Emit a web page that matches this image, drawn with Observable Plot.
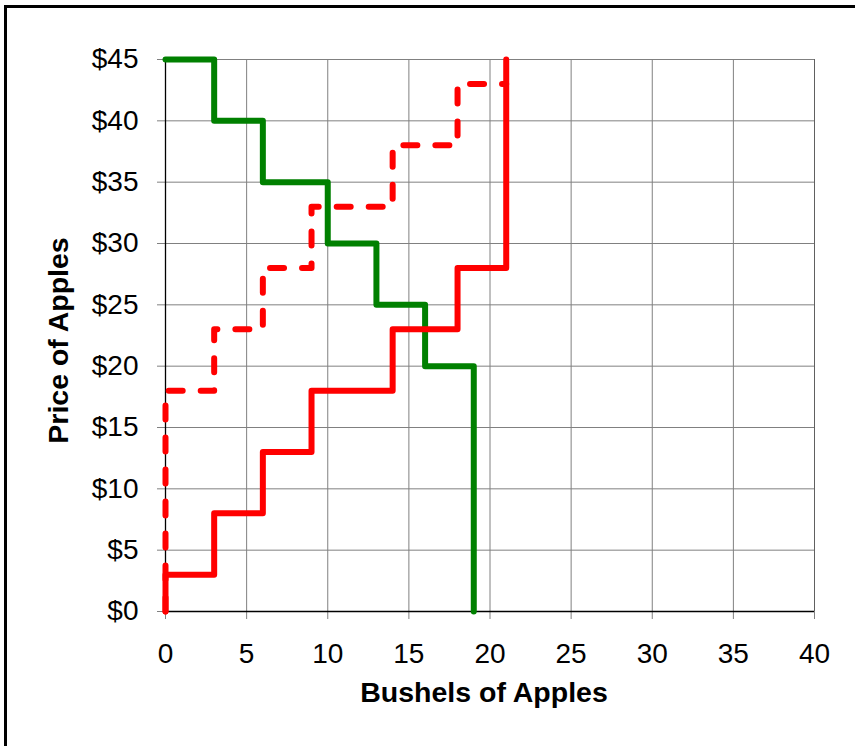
<!DOCTYPE html>
<html>
<head>
<meta charset="utf-8">
<script src="https://cdn.jsdelivr.net/npm/d3@7"></script>
<script src="https://cdn.jsdelivr.net/npm/@observablehq/plot@0.6"></script>
<style>
  html, body { margin: 0; padding: 0; background: #fff; overflow: hidden; }
  #wrap { position: relative; width: 855px; height: 746px; }
  #border { position: absolute; left: 4px; top: 5px; width: 880px; height: 780px; border: 3px solid #000; box-sizing: border-box; pointer-events: none; }
  svg { display: block; }
</style>
</head>
<body>
<div id="wrap"><div id="border"></div><div id="chart"></div></div>
<script>
// Demand (green): quantity / price pairs, drawn with step-after
const demandQ = [0, 3, 6, 10, 13, 16, 19];
const demandP = [45, 40, 35, 30, 25, 20, 0];
// Supply (solid red): step-before
const supplyQ = [0, 3, 6, 9, 14, 18, 21, 21];
const supplyP = [0, 3, 8, 13, 18, 23, 28, 45];
// Supply shifted (dashed red): step-before
const supply2Q = [0, 3, 6, 9, 14, 18, 21];
const supply2P = [0, 18, 23, 28, 33, 38, 43];

const xTicks = [0, 5, 10, 15, 20, 25, 30, 35, 40];
const yTicks = [0, 5, 10, 15, 20, 25, 30, 35, 40, 45];

const demand = demandQ.map((q, i) => ({q, p: demandP[i]}));
const supply = supplyQ.map((q, i) => ({q, p: supplyP[i]}));
const supply2 = supply2Q.map((q, i) => ({q, p: supply2P[i]}));

const font = "Liberation Sans, Arial, sans-serif";

const chart = Plot.plot({
  width: 855,
  height: 746,
  marginLeft: 165,
  marginRight: 41,
  marginTop: 59,
  marginBottom: 135,
  style: {fontFamily: font, background: "transparent", overflow: "visible"},
  x: {domain: [0, 40], ticks: xTicks},
  y: {domain: [0, 45], ticks: yTicks},
  marks: [
    Plot.gridX(xTicks, {stroke: "#808080", strokeOpacity: 1, strokeWidth: 1}),
    Plot.gridY(yTicks, {stroke: "#808080", strokeOpacity: 1, strokeWidth: 1}),
    Plot.ruleX([40], {stroke: "#606060", strokeWidth: 1}),
    Plot.axisX({ticks: xTicks, tickSize: 8, tickPadding: 24, fontSize: 28, label: null, stroke: "#808080", fill: "#000"}),
    Plot.axisY({ticks: yTicks, tickSize: 8, tickPadding: 19, fontSize: 28, label: null, tickFormat: d => "$" + d, stroke: "#808080", fill: "#000"}),
    Plot.ruleY([0], {stroke: "#000", strokeWidth: 1.3}),
    Plot.ruleX([0], {stroke: "#000", strokeWidth: 1.3}),
    Plot.line(demand, {x: "q", y: "p", curve: "step-after", stroke: "#008000", strokeWidth: 6, strokeLinejoin: "round"}),
    Plot.line(supply2, {x: "q", y: "p", curve: "step-before", stroke: "#ff0000", strokeWidth: 6, strokeLinejoin: "round", strokeLinecap: "round", strokeDasharray: "14,18"}),
    Plot.line(supply, {x: "q", y: "p", curve: "step-before", stroke: "#ff0000", strokeWidth: 6, strokeLinejoin: "round"}),
    Plot.text(["Bushels of Apples"], {frameAnchor: "bottom", dy: 90, fontSize: 28.5, fontWeight: "bold", fill: "#000", dx: -6}),
    Plot.text(["Price of Apples"], {frameAnchor: "left", textAnchor: "middle", lineAnchor: "middle", dx: -107, dy: 5, rotate: -90, fontSize: 28.5, fontWeight: "bold", fill: "#000"})
  ]
});
document.getElementById("chart").appendChild(chart);
</script>
</body>
</html>
